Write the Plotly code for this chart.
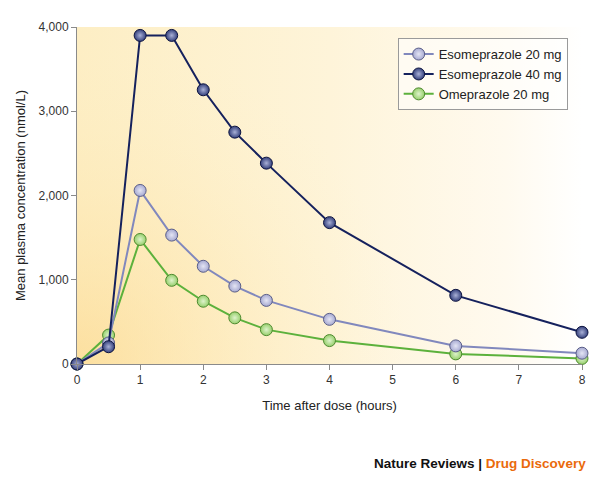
import base64
import plotly.graph_objects as go

time_h = [0, 0.5, 1, 1.5, 2, 2.5, 3, 4, 6, 8]
eso20 = [0, 250, 2060, 1530, 1160, 925, 755, 530, 215, 128]
eso40 = [0, 205, 3900, 3900, 3255, 2752, 2384, 1678, 815, 376]
ome20 = [0, 343, 1478, 993, 745, 548, 408, 278, 120, 66]

series_names = ["Esomeprazole 20 mg", "Esomeprazole 40 mg", "Omeprazole 20 mg"]
x_ticks = [0, 1, 2, 3, 4, 5, 6, 7, 8]
y_ticks = [0, 1000, 2000, 3000, 4000]
y_ticktext = ["0", "1,000", "2,000", "3,000", "4,000"]

styles = [
    dict(line="#8188bd", fill="#a6a9d1", hi="#e4e5f4", edge="#5a5e88"),
    dict(line="#15215d", fill="#34407c", hi="#a9b0d6", edge="#0d1440"),
    dict(line="#5cb13c", fill="#96cf6c", hi="#dff3cc", edge="#4f8a30"),
]

svg = """<svg xmlns='http://www.w3.org/2000/svg' width='505' height='337' viewBox='0 0 505 337' preserveAspectRatio='none'>
<defs>
<linearGradient id='lin' x1='0' y1='0' x2='1' y2='0'>
<stop offset='0' stop-color='#fdeec4'/>
<stop offset='0.5' stop-color='#fef4d9'/>
<stop offset='0.85' stop-color='#fffaef'/>
<stop offset='1' stop-color='#ffffff'/>
</linearGradient>
<radialGradient id='rad' cx='0' cy='337' r='330' gradientUnits='userSpaceOnUse'>
<stop offset='0' stop-color='#fcd98f' stop-opacity='0.7'/>
<stop offset='0.45' stop-color='#fde3a6' stop-opacity='0.38'/>
<stop offset='1' stop-color='#fef0c8' stop-opacity='0'/>
</radialGradient>
</defs>
<rect width='505' height='337' fill='url(#lin)'/>
<rect width='505' height='337' fill='url(#rad)'/>
</svg>"""
bg = "data:image/svg+xml;base64," + base64.b64encode(svg.encode()).decode()

fig = go.Figure()
data = [eso20, eso40, ome20]
for i in [2, 0, 1]:
    s = styles[i]
    fig.add_trace(go.Scatter(
        x=time_h, y=data[i], name=series_names[i], mode="lines+markers",
        line=dict(color=s["line"], width=2),
        marker=dict(size=12, color=s["fill"], line=dict(color=s["edge"], width=1),
                    gradient=dict(type="radial", color=s["hi"])),
        cliponaxis=False, legendrank=i,
    ))

fig.update_layout(
    width=592, height=482,
    margin=dict(l=69, r=18, t=19, b=126),
    paper_bgcolor="white", plot_bgcolor="rgba(0,0,0,0)",
    font=dict(family="Liberation Sans, Arial, sans-serif", size=12, color="#222"),
    images=[dict(source=bg, xref="paper", yref="paper", x=0, y=1, sizex=1, sizey=1,
                 sizing="stretch", layer="below")],
    legend=dict(x=0.635, y=0.967, xanchor="left", yanchor="top",
                bgcolor="rgba(255,255,255,0.55)", bordercolor="#9a9a9a", borderwidth=1,
                font=dict(size=13, color="#222"), tracegroupgap=0, itemwidth=30),
    showlegend=True,
)
fig.update_xaxes(range=[0, 8], tickvals=x_ticks, showgrid=False, zeroline=False,
                 showline=True, linecolor="#8a8a8a", linewidth=1,
                 ticks="outside", ticklen=5, tickcolor="#8a8a8a",
                 tickfont=dict(size=12, color="#333"),
                 title=dict(text="Time after dose (hours)", font=dict(size=13, color="#222"), standoff=14))
fig.update_yaxes(range=[0, 4000], tickvals=y_ticks, ticktext=y_ticktext, showgrid=False, zeroline=False,
                 showline=True, linecolor="#8a8a8a", linewidth=1,
                 ticks="outside", ticklen=5, tickcolor="#8a8a8a",
                 tickfont=dict(size=12, color="#333"),
                 title=dict(text="Mean plasma concentration (nmol/L)", font=dict(size=13, color="#222"), standoff=10))

fig.add_annotation(
    xref="paper", yref="paper", x=1.011, y=-0.294, xanchor="right", yanchor="middle",
    text="<b>Nature Reviews</b> <b>|</b> <b><span style='color:#ea6a0c'>Drug Discovery</span></b>",
    showarrow=False, font=dict(size=13.5, color="#111"),
)

fig.write_html("out.html")
